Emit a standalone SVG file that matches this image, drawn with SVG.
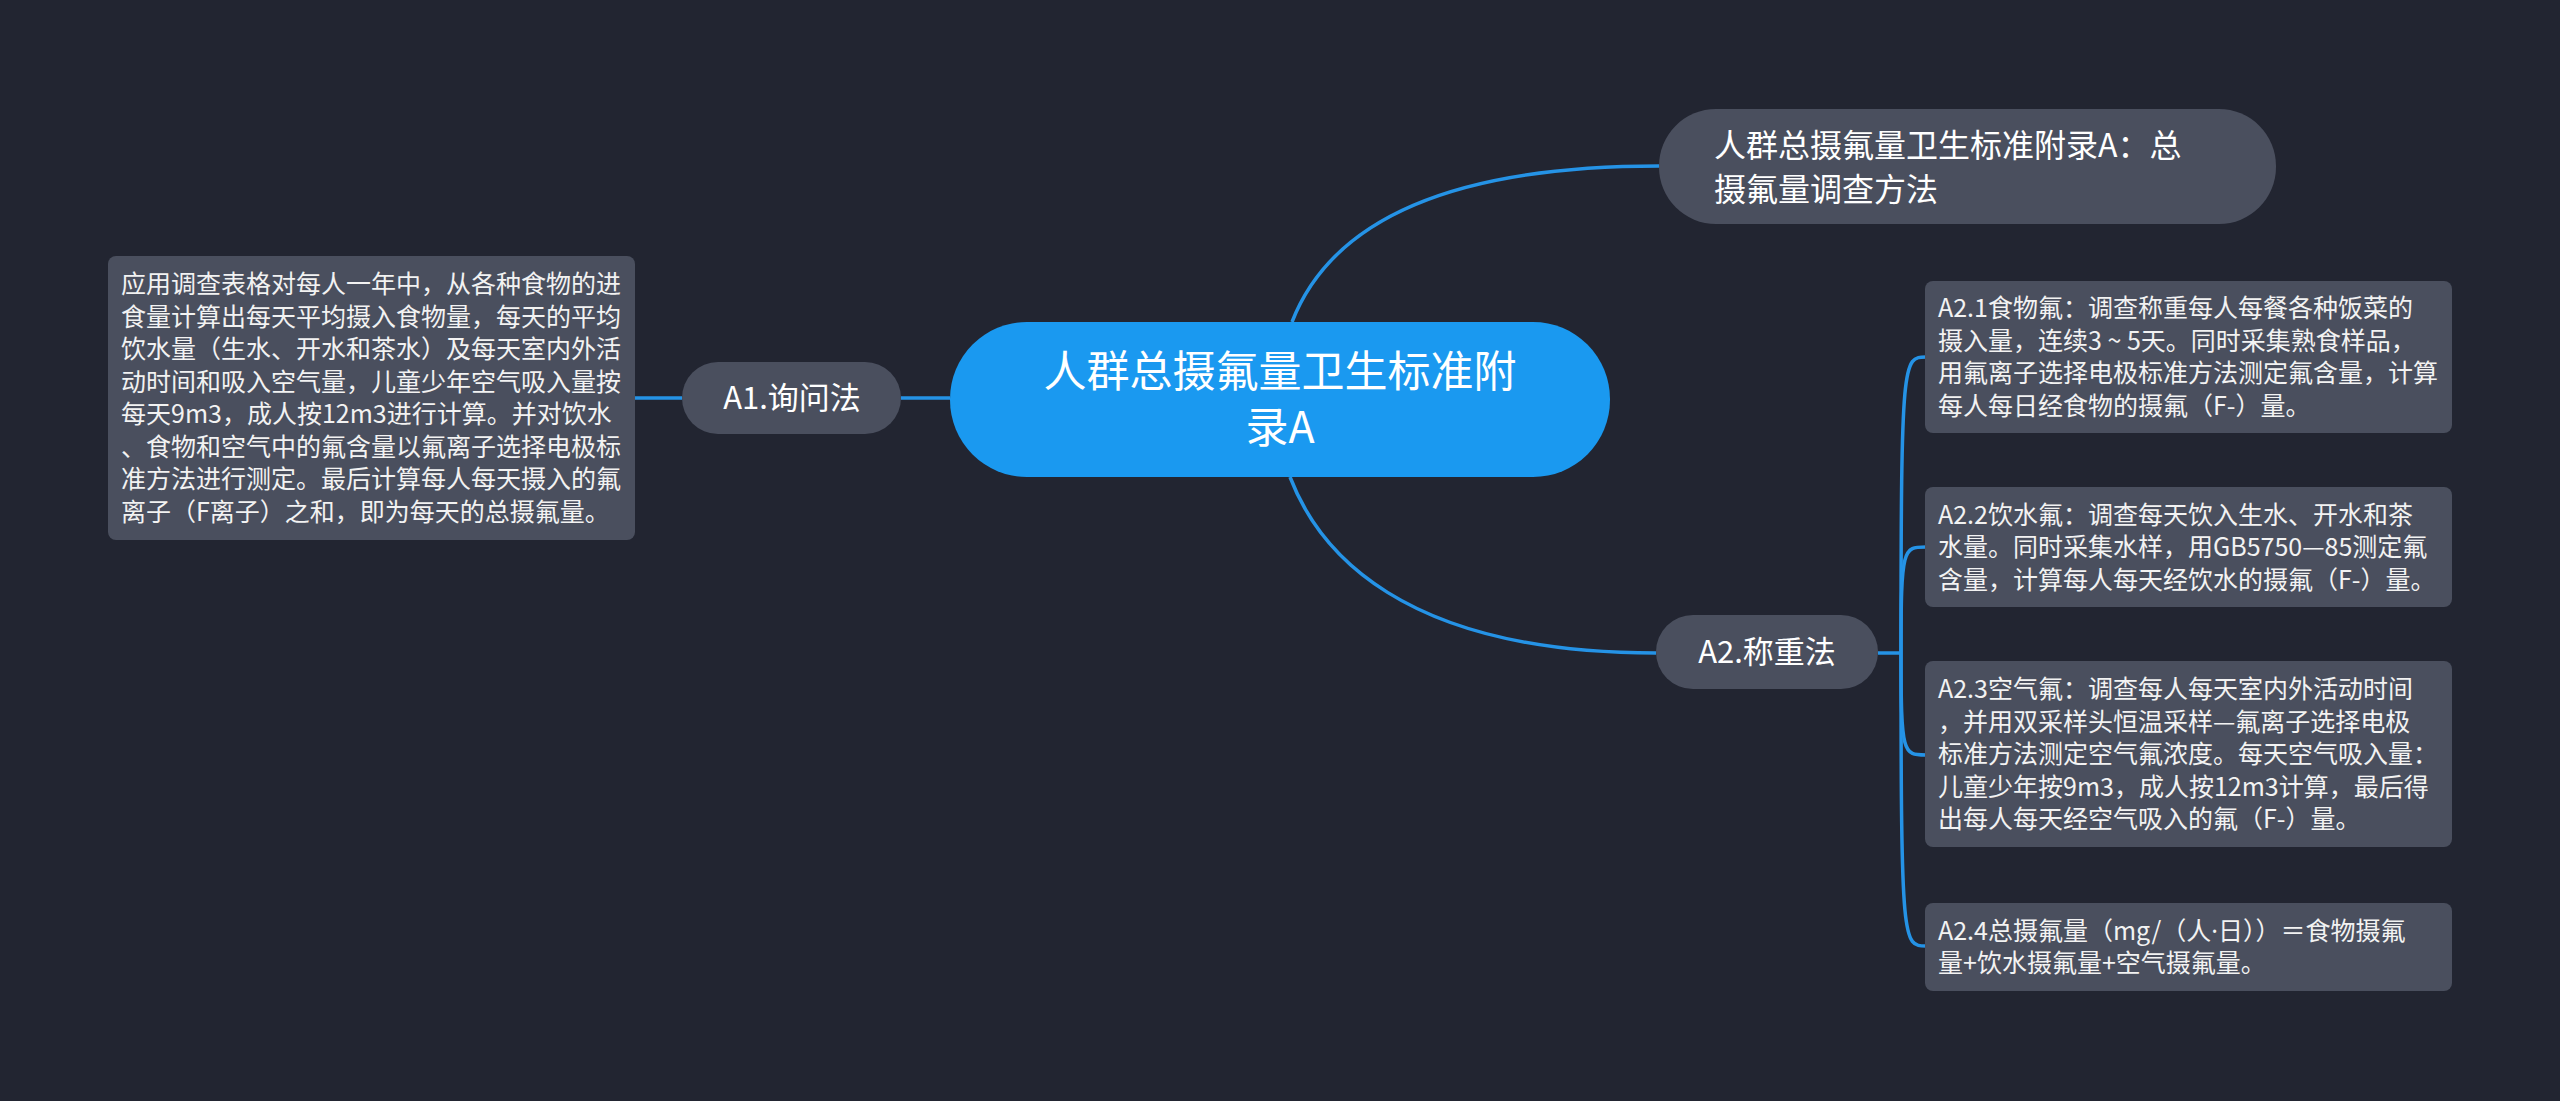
<svg xmlns="http://www.w3.org/2000/svg" width="2560" height="1101" viewBox="0 0 2560 1101">
<style>
.bg{fill:#222531}
.link{fill:none;stroke:#2593e6;stroke-width:3.5}
.root{fill:#1a99f0}
.pill{fill:#4a4f5e}
.box{fill:#4a4f5e}
text{font-family:"Noto Sans CJK SC","Noto Sans",sans-serif;fill:#ffffff}
.lat{font-family:"Noto Sans",sans-serif}
.t43{font-size:43px}
.t32{font-size:32px}
.t31{font-size:31px}
.t25{font-size:25px;fill:#f2f2f2}
</style>
<rect class="bg" x="0" y="0" width="2560" height="1101"/>
<g id="connectors">
<path class="link" d="M1292,322 C1320,250 1400,166 1659,166"/>
<path class="link" d="M1290,477 C1318,550 1400,653 1656,653"/>
<path class="link" d="M950,398 L901,398"/>
<path class="link" d="M682,398 L635,398"/>
<path class="link" d="M1878,653 L1901,653"/>
<path class="link" d="M1901,653 C1901,357 1903,357 1926,357"/>
<path class="link" d="M1901,653 C1901,547 1903,547 1926,547"/>
<path class="link" d="M1901,653 C1901,755 1903,755 1926,755"/>
<path class="link" d="M1901,653 C1901,946 1903,946 1926,946"/>
</g>
<g id="root">
<rect class="root" x="950" y="322" width="660" height="155" rx="77"/>
<text class="t43" x="1280" y="387" text-anchor="middle">人群总摄氟量卫生标准附</text>
<text class="t43" x="1280" y="443" text-anchor="middle">录A</text>
</g>
<g id="n-title">
<rect class="pill" x="1659" y="109" width="617" height="115" rx="57"/>
<text class="t32" x="1714" y="157">人群总摄氟量卫生标准附录A：总</text>
<text class="t32" x="1714" y="201">摄氟量调查方法</text>
</g>
<g id="n-a1">
<rect class="pill" x="682" y="362" width="219" height="72" rx="36"/>
<text class="t31" x="792" y="409" text-anchor="middle">A1.询问法</text>
</g>
<g id="n-a1-detail">
<rect class="box" x="108" y="256" width="527" height="284" rx="8"/>
<text class="t25" x="121" y="293">应用调查表格对每人一年中，从各种食物的进</text>
<text class="t25" x="121" y="325.5">食量计算出每天平均摄入食物量，每天的平均</text>
<text class="t25" x="121" y="358">饮水量（生水、开水和茶水）及每天室内外活</text>
<text class="t25" x="121" y="390.5">动时间和吸入空气量，儿童少年空气吸入量按</text>
<text class="t25" x="121" y="423">每天9m3，成人按12m3进行计算。并对饮水</text>
<text class="t25" x="121" y="455.5">、食物和空气中的氟含量以氟离子选择电极标</text>
<text class="t25" x="121" y="488">准方法进行测定。最后计算每人每天摄入的氟</text>
<text class="t25" x="121" y="520.5">离子（F离子）之和，即为每天的总摄氟量。</text>
</g>
<g id="n-a2">
<rect class="pill" x="1656" y="615" width="222" height="74" rx="37"/>
<text class="t31" x="1767" y="663" text-anchor="middle">A2.称重法</text>
</g>
<g id="n-a2-1">
<rect class="box" x="1925" y="281" width="527" height="152" rx="8"/>
<text class="t25" x="1938" y="317">A2.1食物氟：调查称重每人每餐各种饭菜的</text>
<text class="t25" x="1938" y="349.5">摄入量，连续3 ~ 5天。同时采集熟食样品，</text>
<text class="t25" x="1938" y="382">用氟离子选择电极标准方法测定氟含量，计算</text>
<text class="t25" x="1938" y="414.5">每人每日经食物的摄氟（F-）量。</text>
</g>
<g id="n-a2-2">
<rect class="box" x="1925" y="487" width="527" height="120" rx="8"/>
<text class="t25" x="1938" y="523.5">A2.2饮水氟：调查每天饮入生水、开水和茶</text>
<text class="t25" x="1938" y="556">水量。同时采集水样，用GB5750—85测定氟</text>
<text class="t25" x="1938" y="588.5">含量，计算每人每天经饮水的摄氟（F-）量。</text>
</g>
<g id="n-a2-3">
<rect class="box" x="1925" y="661" width="527" height="186" rx="8"/>
<text class="t25" x="1938" y="698">A2.3空气氟：调查每人每天室内外活动时间</text>
<text class="t25" x="1938" y="730.5">，并用双采样头恒温采样—氟离子选择电极</text>
<text class="t25" x="1938" y="763">标准方法测定空气氟浓度。每天空气吸入量：</text>
<text class="t25" x="1938" y="795.5">儿童少年按9m3，成人按12m3计算，最后得</text>
<text class="t25" x="1938" y="828">出每人每天经空气吸入的氟（F-）量。</text>
</g>
<g id="n-a2-4">
<rect class="box" x="1925" y="903" width="527" height="88" rx="8"/>
<text class="t25" x="1938" y="939.5">A2.4总摄氟量（mg/（人<tspan class="lat">·</tspan>日））＝食物摄氟</text>
<text class="t25" x="1938" y="972">量+饮水摄氟量+空气摄氟量。</text>
</g>
</svg>
